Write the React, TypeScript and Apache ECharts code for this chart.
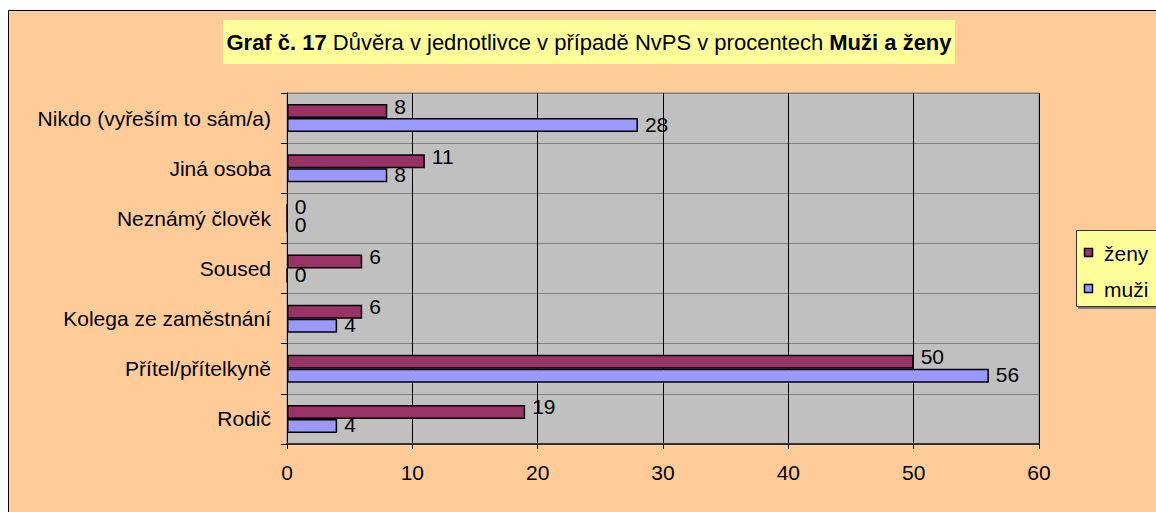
import React, { useEffect, useRef } from "react";
import * as echarts from "echarts";

const categories = [
  "Rodič",
  "Přítel/přítelkyně",
  "Kolega ze zaměstnání",
  "Soused",
  "Neznámý člověk",
  "Jiná osoba",
  "Nikdo (vyřeším to sám/a)",
];
const zenyValues = [19, 50, 6, 6, 0, 11, 8];
const muziValues = [4, 56, 4, 0, 0, 8, 28];
const xTicks = { min: 0, max: 60, interval: 10 };
const seriesNames = ["ženy", "muži"];

const FONT = "'Liberation Sans', Arial, sans-serif";

export default function App() {
  const ref = useRef<HTMLDivElement>(null);
  useEffect(() => {
    if (!ref.current) return;
    const chart = echarts.init(ref.current, null, { renderer: "svg" });
    const labelCfg = (dy: number) => ({
      show: true,
      position: "right",
      distance: 7,
      offset: [0, dy],
      color: "#000",
      fontSize: 21,
      lineHeight: 14,
      fontFamily: FONT,
    });
    chart.setOption({
      animation: false,
      backgroundColor: "#FFCC99",
      textStyle: { fontFamily: FONT },
      grid: {
        left: 287,
        right: 117,
        top: 93,
        bottom: 68,
        show: true,
        backgroundColor: "#C0C0C0",
        borderColor: "#808080",
        borderWidth: 1,
        containLabel: false,
      },
      xAxis: {
        type: "value",
        min: xTicks.min,
        max: xTicks.max,
        interval: xTicks.interval,
        axisLine: { show: true, lineStyle: { color: "#333", width: 2 } },
        axisTick: { show: true, length: 5, lineStyle: { color: "#000" } },
        axisLabel: { fontSize: 21, color: "#000", margin: 18, fontFamily: FONT },
        splitLine: { show: true, lineStyle: { color: "#000", width: 1 } },
      },
      yAxis: {
        type: "category",
        data: categories,
        axisLine: { show: true, lineStyle: { color: "#000", width: 1 } },
        axisTick: { show: true, length: 6, lineStyle: { color: "#000" } },
        axisLabel: { fontSize: 21, color: "#000", margin: 16, fontFamily: FONT },
        splitLine: { show: true, lineStyle: { color: "#808080", width: 1 } },
      },
      series: [
        {
          name: seriesNames[0],
          type: "bar",
          data: zenyValues,
          barWidth: 14,
          barGap: "0%",
          itemStyle: { color: "#993366", borderColor: "#000", borderWidth: 1.5 },
          label: labelCfg(-5),
        },
        {
          name: seriesNames[1],
          type: "bar",
          data: muziValues,
          barWidth: 14,
          barGap: "0%",
          itemStyle: { color: "#9999FF", borderColor: "#000", borderWidth: 1.5 },
          label: labelCfg(-1),
        },
      ],
      graphic: [
        { type: "rect", z: 100, shape: { x: 0, y: 0, width: 8, height: 512 }, style: { fill: "#fff" } },
        { type: "rect", z: 100, shape: { x: 0, y: 0, width: 1156, height: 10 }, style: { fill: "#fff" } },
        { type: "line", z: 101, shape: { x1: 8.5, y1: 10, x2: 8.5, y2: 512 }, style: { stroke: "#000", lineWidth: 1 } },
        { type: "line", z: 101, shape: { x1: 8, y1: 10.5, x2: 1156, y2: 10.5 }, style: { stroke: "#000", lineWidth: 1 } },
        { type: "rect", z: 100, shape: { x: 223, y: 20, width: 732, height: 44 }, style: { fill: "#FFFF99" } },
        {
          type: "text",
          z: 101,
          x: 589,
          y: 42,
          style: {
            text: "{b|Graf č. 17} Důvěra v jednotlivce v případě NvPS v procentech {b|Muži a ženy}",
            align: "center",
            verticalAlign: "middle",
            fontSize: 22,
            fontFamily: FONT,
            fill: "#000",
            rich: { b: { fontWeight: "bold", fontSize: 22, fontFamily: FONT } },
          },
        },
        { type: "rect", z: 100, shape: { x: 1078, y: 232, width: 80, height: 77 }, style: { fill: "#808080" } },
        { type: "rect", z: 100, shape: { x: 1076.5, y: 230.5, width: 80, height: 76 }, style: { fill: "#FFFF99", stroke: "#333", lineWidth: 1 } },
        { type: "rect", z: 101, shape: { x: 1084.5, y: 248.5, width: 8, height: 8 }, style: { fill: "#993366", stroke: "#000", lineWidth: 1.5 } },
        { type: "rect", z: 101, shape: { x: 1084.5, y: 284.5, width: 8, height: 8 }, style: { fill: "#9999FF", stroke: "#000", lineWidth: 1.5 } },
        { type: "text", z: 101, x: 1104, y: 253, style: { text: seriesNames[0], fontSize: 21, fontFamily: FONT, fill: "#000", verticalAlign: "middle" } },
        { type: "text", z: 101, x: 1104, y: 289, style: { text: seriesNames[1], fontSize: 21, fontFamily: FONT, fill: "#000", verticalAlign: "middle" } },
      ],
    });
    return () => chart.dispose();
  }, []);
  return (
    <div
      ref={ref}
      style={{ position: "fixed", left: 0, top: 0, width: 1156, height: 512 }}
    />
  );
}
